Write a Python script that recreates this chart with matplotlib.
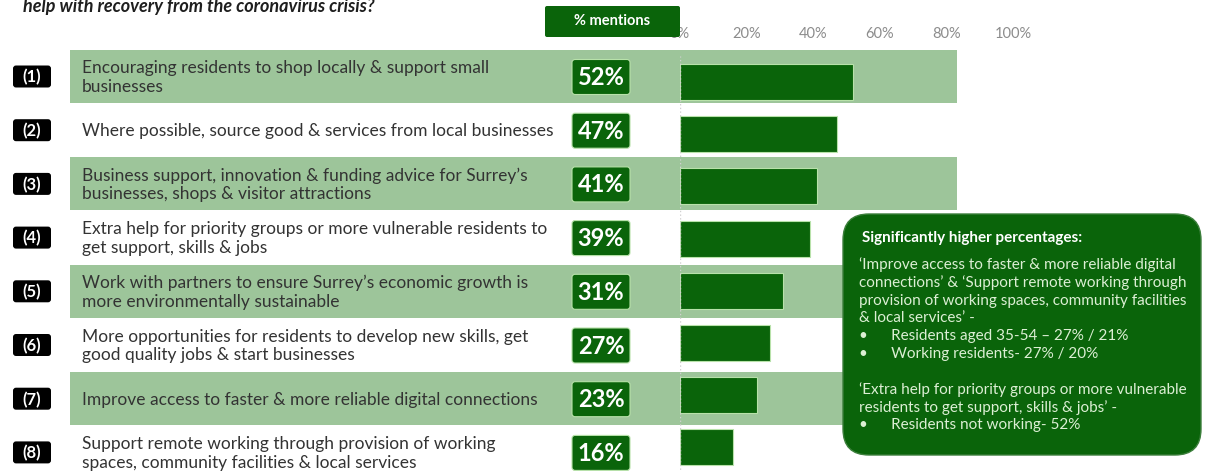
import matplotlib.pyplot as plt
from matplotlib.patches import FancyBboxPatch, Rectangle

# data
numbers = ["(1)", "(2)", "(3)", "(4)", "(5)", "(6)", "(7)", "(8)"]
labels = [
    "Encouraging residents to shop locally & support small\nbusinesses",
    "Where possible, source good & services from local businesses",
    "Business support, innovation & funding advice for Surrey\u2019s\nbusinesses, shops & visitor attractions",
    "Extra help for priority groups or more vulnerable residents to\nget support, skills & jobs",
    "Work with partners to ensure Surrey\u2019s economic growth is\nmore environmentally sustainable",
    "More opportunities for residents to develop new skills, get\ngood quality jobs & start businesses",
    "Improve access to faster & more reliable digital connections",
    "Support remote working through provision of working\nspaces, community facilities & local services",
]
values = [52, 47, 41, 39, 31, 27, 23, 16]
ticks = [0, 20, 40, 60, 80, 100]
tick_labels = ["0%", "20%", "40%", "60%", "80%", "100%"]
title = "help with recovery from the coronavirus crisis?"
header = "% mentions"
callout_title = "Significantly higher percentages:"
callout_lines = [
    "\u2018Improve access to faster & more reliable digital",
    "connections\u2019 & \u2018Support remote working through",
    "provision of working spaces, community facilities",
    "& local services\u2019 -",
    "\u2022      Residents aged 35-54 \u2013 27% / 21%",
    "\u2022      Working residents- 27% / 20%",
    "",
    "\u2018Extra help for priority groups or more vulnerable",
    "residents to get support, skills & jobs\u2019 -",
    "\u2022      Residents not working- 52%",
]

plt.rcParams['font.family'] = ['Lato', 'DejaVu Sans']

DARK = "#0a640a"
BAND = "#9dc59a"
EDGE = "#b8e2aa"
W, H = 1206, 472

fig = plt.figure(figsize=(12.06, 4.72), dpi=100)
bg = fig.add_axes([0, 0, 1, 1])
bg.set_xlim(0, W)
bg.set_ylim(H, 0)
bg.axis("off")

row0, pitch = 76.5, 53.7

bg.text(23, 12, title, fontsize=13, fontweight="bold", style="italic",
        color="#1e1e1e", va="baseline", ha="left")

for i, (num, lab) in enumerate(zip(numbers, labels)):
    yc = row0 + pitch * i
    if i % 2 == 0:
        bg.add_patch(Rectangle((70, yc - 26.5), 887, 53, color=BAND, lw=0, zorder=0))
    bg.add_patch(FancyBboxPatch((13, yc - 11), 38, 22,
                                boxstyle="round,pad=0,rounding_size=3",
                                fc="black", ec="none", zorder=2))
    bg.text(32, yc + 1, num, color="white", fontsize=12, fontweight="bold",
            ha="center", va="center", zorder=3)
    bg.text(82, yc + 1, lab, color="#333333", fontsize=12.5, ha="left",
            va="center", linespacing=1.2, zorder=3)
    bg.add_patch(FancyBboxPatch((572, yc - 17), 58, 35,
                                boxstyle="round,pad=0,rounding_size=3",
                                fc=DARK, ec=EDGE, lw=0.8, zorder=2))
    bg.text(601, yc + 1, f"{values[i]}%", color="white", fontsize=17,
            fontweight="bold", ha="center", va="center", zorder=3)

# bar axes
bar0, bpitch = 82, 52.2
top_px = bar0 - bpitch / 2
bot_px = bar0 + bpitch * 7.5
ax = fig.add_axes([680 / W, 1 - bot_px / H, 333 / W, (bot_px - top_px) / H])
ax.patch.set_alpha(0)
ax.barh(range(len(values)), values, height=0.69, color=DARK,
        edgecolor=EDGE, linewidth=0.8)
ax.set_ylim(len(values) - 0.5, -0.5)
ax.set_xlim(0, 100)
ax.set_xticks(ticks)
ax.set_xticklabels(tick_labels)
ax.xaxis.tick_top()
ax.tick_params(axis="x", length=0, pad=11, labelsize=10.5, labelcolor="#8c8c8c")
ax.set_yticks([])
for s in ax.spines.values():
    s.set_visible(False)
ax.axvline(0, color="#d0d0d0", ls=":", lw=1)

# overlay
ov = fig.add_axes([0, 0, 1, 1])
ov.set_xlim(0, W)
ov.set_ylim(H, 0)
ov.axis("off")
ov.add_patch(FancyBboxPatch((545, 6), 135, 31,
                            boxstyle="round,pad=0,rounding_size=2",
                            fc=DARK, ec="none"))
ov.text(612, 21, header, color="white", fontsize=10.5, fontweight="bold",
        ha="center", va="center")

ov.add_patch(FancyBboxPatch((843, 214), 358, 241,
                            boxstyle="round,pad=0,rounding_size=26",
                            fc=DARK, ec="#3c7f3c", lw=1))
ov.text(862, 238, callout_title, color="white", fontsize=11,
        fontweight="bold", ha="left", va="center")
for k, line in enumerate(callout_lines):
    ov.text(859, 265 + 17.8 * k, line, color="#dcefd4", fontsize=11,
            ha="left", va="center")

fig.savefig("out.png", dpi=100)
